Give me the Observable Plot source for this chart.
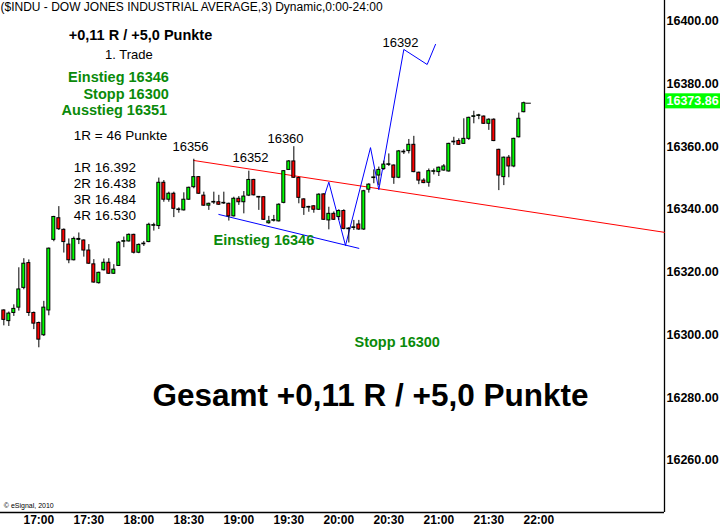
<!DOCTYPE html>
<html><head><meta charset="utf-8">
<script src="https://cdn.jsdelivr.net/npm/d3@7"></script>
<script src="https://cdn.jsdelivr.net/npm/@observablehq/plot@0.6"></script>
<style>html,body{margin:0;padding:0;background:#fff;} #chart svg{display:block;}</style>
</head><body><div id="chart"></div>
<script>
// 3-minute bars of the Dow Jones Industrial Average
const barStart = "16:39";
const barMinutes = 3;
const open  = [16307.8,16304.4,16307.0,16308.7,16315.0,16322.9,16307.0,16303.8,16299.9,16307.8,
  16330.3,16337.2,16333.5,16328.8,16323.8,16330.3,16330.1,16326.9,16322.5,16316.5,
  16320.6,16323.0,16319.5,16322.0,16329.7,16329.8,16331.9,16326.2,16328.9,16329.6,
  16334.8,16334.7,16348.5,16343.1,16345.0,16339.8,16339.7,16343.1,16347.1,16350.3,
  16344.4,16341.2,16342.2,16342.3,16341.9,16341.8,16337.8,16343.4,16342.3,16344.4,
  16349.4,16343.8,16343.9,16335.6,16336.4,16336.2,16342.1,16352.6,16355.3,16350.0,
  16343.2,16340.6,16341.0,16339.9,16344.8,16336.5,16338.6,16337.6,16339.5,16333.7,
  16334.1,16335.2,16333.6,16346.3,16350.0,16350.8,16352.9,16354.2,16354.0,16350.1,
  16358.2,16358.6,16360.6,16351.7,16349.2,16348.5,16352.0,16351.9,16352.4,16352.1,
  16361.4,16361.8,16360.9,16362.5,16369.5,16369.8,16369.6,16367.3,16368.6,16359.0,
  16350.3,16356.5,16353.7,16363.0,16371.0];
const high  = [16308.0,16307.3,16309.6,16321.4,16324.3,16323.9,16307.3,16304.1,16310.7,16327.7,
  16337.8,16340.9,16333.8,16330.6,16331.2,16332.5,16330.3,16328.8,16324.0,16320.0,
  16324.2,16324.3,16322.4,16329.8,16331.2,16332.2,16332.1,16329.0,16329.8,16335.6,
  16335.6,16350.0,16349.2,16345.5,16345.5,16340.5,16345.3,16347.1,16356.0,16350.5,
  16345.5,16342.0,16345.5,16344.5,16345.5,16342.0,16343.9,16344.1,16345.7,16352.2,
  16349.6,16344.1,16344.1,16337.8,16338.1,16341.8,16352.4,16355.6,16360.0,16350.3,
  16343.4,16341.0,16341.2,16345.0,16345.0,16340.7,16339.2,16339.9,16339.9,16334.2,
  16336.5,16336.5,16346.1,16348.2,16352.6,16353.5,16355.4,16357.7,16354.2,16358.8,
  16359.0,16362.3,16363.3,16351.9,16349.8,16352.9,16352.9,16353.5,16354.3,16361.1,
  16363.0,16362.5,16368.9,16369.4,16371.3,16370.3,16369.8,16368.9,16368.9,16359.2,
  16356.7,16357.2,16362.7,16370.7,16374.2];
const low   = [16302.9,16302.7,16305.9,16307.6,16314.4,16305.9,16301.7,16295.9,16299.5,16306.1,
  16329.7,16333.3,16326.1,16322.7,16323.6,16328.8,16324.8,16322.5,16316.5,16316.2,
  16320.4,16319.3,16319.3,16321.8,16327.8,16329.6,16325.8,16325.9,16328.2,16329.4,
  16333.1,16333.6,16342.3,16342.3,16337.4,16338.8,16339.5,16342.9,16346.6,16344.8,
  16341.0,16339.7,16341.6,16341.3,16341.6,16336.3,16337.6,16341.3,16338.6,16344.1,
  16344.3,16339.7,16336.5,16335.3,16336.0,16336.0,16341.8,16352.4,16349.9,16341.8,
  16338.1,16339.1,16338.8,16339.7,16336.5,16333.5,16336.5,16336.5,16333.5,16329.3,
  16333.3,16333.3,16333.3,16345.2,16348.2,16347.6,16352.4,16353.7,16348.0,16349.8,
  16357.5,16357.7,16351.7,16347.9,16348.2,16347.1,16351.0,16350.5,16352.2,16351.9,
  16360.4,16360.4,16360.7,16362.0,16367.3,16368.6,16367.1,16365.2,16361.6,16346.0,
  16347.6,16350.1,16353.3,16362.8,16370.8];
const close = [16304.8,16306.8,16308.3,16314.5,16322.7,16307.0,16303.6,16298.5,16308.7,16327.5,
  16337.6,16333.7,16329.6,16323.8,16330.6,16330.6,16326.9,16322.7,16316.7,16319.8,
  16323.0,16319.5,16320.8,16329.4,16329.9,16331.9,16326.2,16328.7,16329.1,16335.1,
  16335.0,16348.5,16343.1,16345.0,16340.2,16340.0,16343.1,16346.9,16350.3,16345.0,
  16341.2,16341.8,16342.4,16341.5,16342.1,16337.8,16343.4,16342.3,16344.1,16349.4,
  16344.5,16344.0,16336.7,16336.2,16336.6,16341.5,16352.2,16355.3,16350.1,16343.7,
  16340.5,16340.8,16339.9,16344.7,16336.7,16338.6,16336.7,16339.5,16333.8,16333.9,
  16334.3,16333.6,16345.8,16347.9,16350.2,16352.6,16354.3,16354.4,16350.1,16358.5,
  16358.4,16360.6,16351.9,16349.2,16348.4,16352.2,16352.2,16353.3,16353.7,16360.9,
  16361.6,16360.6,16362.5,16369.2,16369.7,16370.0,16367.3,16368.6,16361.8,16350.8,
  16356.5,16353.7,16362.5,16368.9,16373.86];

const xTicks = ["17:00","17:30","18:00","18:30","19:00","19:30","20:00","20:30","21:00","21:30","22:00"];
const yTicks = [16260,16280,16300,16320,16340,16360,16380,16400];
const xDomain = ["16:37","23:15.4"];
const yDomain = [16243.4, 16406.6];
const lastPrice = 16373.86;

const trendRed = [{time:"18:33", price:16355.6},{time:"23:15.4", price:16332.7}];
const channelBlue = [{time:"18:48", price:16338.4},{time:"20:12", price:16327.6}];
const pathBlue = [
  {time:"19:51", price:16343.8},{time:"19:54", price:16348.7},{time:"20:04", price:16328.5},
  {time:"20:19", price:16359.7},{time:"20:24", price:16346.3},{time:"20:39", price:16391.0},
  {time:"20:53", price:16386.2},{time:"20:58", price:16392.6}];

const headerNote = [{label:"($INDU - DOW JONES INDUSTRIAL AVERAGE,3) Dynamic,0:00-24:00", time:"16:37", price:16404.4}];
const resultNote = [{label:"+0,11 R / +5,0 Punkte", time:"18:01", price:16395.4}];
const plainNotes = [
  {label:"1. Trade", time:"17:54", price:16389.4},
  {label:"16356", time:"18:31", price:16360.1},
  {label:"16352", time:"19:07", price:16356.6},
  {label:"16360", time:"19:28", price:16362.6},
  {label:"16392", time:"20:37", price:16393.2}];
const tradeNotes = [
  {label:"Einstieg 16346", time:"18:18", price:16382.1},
  {label:"Stopp 16300", time:"18:18", price:16376.6},
  {label:"Ausstieg 16351", time:"18:17", price:16371.5}];
const rNotes = [
  {label:"1R = 46 Punkte", time:"17:21", price:16363.6},
  {label:"1R 16.392", time:"17:21", price:16353.4},
  {label:"2R 16.438", time:"17:21", price:16348.3},
  {label:"3R 16.484", time:"17:21", price:16343.2},
  {label:"4R 16.530", time:"17:21", price:16338.1}];
const levelNotes = [
  {label:"Einstieg 16346", time:"19:15", price:16330.3},
  {label:"Stopp 16300", time:"20:35", price:16297.6}];
const totalNote = [{label:"Gesamt +0,11 R / +5,0 Punkte", time:"20:19", price:16280.7}];
const copyNote = [{label:"© eSignal, 2010", time:"16:39", price:16245.7}];

const toMin = s => { const [h,m] = s.split(":").map(Number); return h*60+m; };
const fmt = m => String(Math.floor(m/60)).padStart(2,"0") + ":" + String(Math.round(m%60)).padStart(2,"0");
const t0 = toMin(barStart);
const bars = open.map((o,i) => ({t: t0 + i*barMinutes, o, h: high[i], l: low[i], c: close[i]}));
const xd = xDomain.map(toMin);
const last = bars[bars.length-1];
const tm = d => toMin(d.time);

const font = "'Liberation Sans', Arial, sans-serif";
const GREEN_TXT = "#0a8a0a";

const chart = Plot.plot({
  width: 720, height: 528,
  marginTop: 0, marginBottom: 16, marginLeft: 0, marginRight: 56,
  style: {fontFamily: font, background: "#fff", overflow: "visible"},
  x: {domain: xd, axis: null},
  y: {domain: yDomain, axis: null},
  marks: [
    Plot.ruleX([xd[1]], {stroke: "#000", strokeWidth: 1.3}),
    Plot.ruleY([yDomain[0]], {stroke: "#000", strokeWidth: 1.3}),
    Plot.axisX(xTicks.map(toMin), {label: null, tickSize: 0, tickPadding: 3, tickFormat: fmt, fontWeight: "bold", fontSize: 12, fill: "#000"}),
    Plot.axisY(yTicks, {anchor: "right", label: null, tickSize: 0, tickPadding: 2, tickFormat: d => d.toFixed(2), fontWeight: "bold", fontSize: 12.5, fill: "#000"}),
    // current price tag
    Plot.rect([lastPrice], {x1: xd[1] + 0.6, x2: xd[1] + 34, y1: d => d + 3.0, y2: d => d - 1.8, fill: "#00ff00"}),
    Plot.text([lastPrice], {x: xd[1] + 1.2, y: d => d + 0.6, text: d => d.toFixed(2), textAnchor: "start", fill: "#fff", fontWeight: "bold", fontSize: 12.5}),
    // lines
    Plot.line(trendRed, {x: tm, y: "price", stroke: "#ff0000", strokeWidth: 1}),
    Plot.line(channelBlue, {x: tm, y: "price", stroke: "#0000ff", strokeWidth: 1}),
    Plot.line(pathBlue, {x: tm, y: "price", stroke: "#0000ff", strokeWidth: 1}),
    // candles
    Plot.ruleX(bars, {x: "t", y1: "l", y2: "h", stroke: "#000", strokeWidth: 1}),
    Plot.rect(bars, {x1: d => d.t - 0.9, x2: d => d.t + 0.9, y1: "o", y2: "c",
      fill: d => d.c >= d.o ? "#00ff00" : "#ff0000", stroke: "#000", strokeWidth: 1}),
    Plot.ruleY([last], {y: "c", x1: d => d.t + 1.2, x2: d => d.t + 4.5, stroke: "#000", strokeWidth: 1}),
    // texts
    Plot.text(headerNote, {x: tm, y: "price", text: "label", textAnchor: "start", fontSize: 12, fill: "#000"}),
    Plot.text(resultNote, {x: tm, y: "price", text: "label", fontSize: 14.5, fontWeight: "bold", fill: "#000"}),
    Plot.text(plainNotes, {x: tm, y: "price", text: "label", fontSize: 13, fill: "#000"}),
    Plot.text(tradeNotes, {x: tm, y: "price", text: "label", textAnchor: "end", fontSize: 14.5, fontWeight: "bold", fill: GREEN_TXT}),
    Plot.text(rNotes, {x: tm, y: "price", text: "label", textAnchor: "start", fontSize: 13.5, fill: "#000"}),
    Plot.text(levelNotes, {x: tm, y: "price", text: "label", fontSize: 14.5, fontWeight: "bold", fill: GREEN_TXT}),
    Plot.text(totalNote, {x: tm, y: "price", text: "label", fontSize: 31.5, fontWeight: "bold", fill: "#000"}),
    Plot.text(copyNote, {x: tm, y: "price", text: "label", textAnchor: "start", fontSize: 7, fill: "#000"})
  ]
});
document.getElementById("chart").appendChild(chart);
</script>
</body></html>
